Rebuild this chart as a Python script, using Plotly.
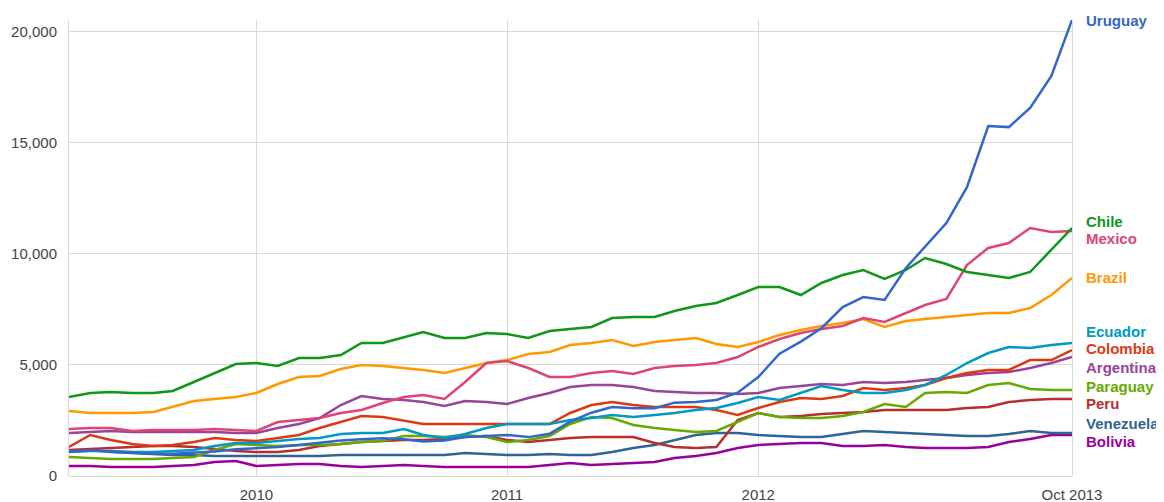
import plotly.graph_objects as go
import pandas as pd

# monthly observations, Oct 2009 .. Oct 2013
months = pd.date_range("2009-10-01", "2013-10-01", freq="MS")

uruguay = [1100, 1150, 1100, 1050, 1000, 1000, 1050, 1100, 1200, 1250, 1300, 1400, 1500,
           1600, 1650, 1700, 1650, 1550, 1600, 1750, 1800, 1850, 1750, 1900, 2450, 2850,
           3100, 3050, 3050, 3300, 3330, 3420, 3750, 4450, 5500, 6050, 6650, 7600, 8050,
           7920, 9360, 10300, 11385, 13000, 15750, 15700, 16560, 18000, 20520]
chile = [3555, 3735, 3780, 3735, 3735, 3825, 4230, 4635, 5040, 5085, 4950, 5310, 5310,
         5445, 5985, 5985, 6255, 6480, 6210, 6210, 6435, 6390, 6210, 6525, 6615, 6705,
         7110, 7155, 7155, 7425, 7650, 7785, 8145, 8505, 8505, 8145, 8685, 9045, 9270,
         8865, 9270, 9810, 9540, 9180, 9045, 8910, 9180, 10170, 11160]
mexico = [2115, 2160, 2160, 2025, 2070, 2070, 2070, 2115, 2070, 2025, 2430, 2520, 2610,
          2835, 2970, 3285, 3555, 3645, 3465, 4230, 5085, 5175, 4860, 4455, 4455, 4635,
          4725, 4590, 4860, 4950, 4995, 5085, 5355, 5805, 6165, 6435, 6615, 6750, 7110,
          6930, 7335, 7695, 7965, 9495, 10260, 10485, 11160, 10980, 11025]
brazil = [2925, 2835, 2835, 2835, 2880, 3105, 3375, 3465, 3555, 3735, 4140, 4455, 4500,
          4815, 4995, 4950, 4860, 4770, 4635, 4860, 5085, 5220, 5490, 5580, 5895, 5985,
          6120, 5850, 6030, 6120, 6210, 5940, 5805, 6030, 6345, 6570, 6750, 6885, 7065,
          6705, 6975, 7065, 7155, 7245, 7335, 7335, 7560, 8145, 8910]
ecuador = [1080, 1125, 1125, 1080, 1080, 1125, 1170, 1350, 1485, 1485, 1575, 1665, 1710,
           1890, 1935, 1935, 2115, 1845, 1710, 1890, 2160, 2340, 2340, 2340, 2520, 2610,
           2745, 2655, 2745, 2835, 2970, 3060, 3285, 3555, 3420, 3735, 4050, 3870, 3735,
           3735, 3870, 4095, 4545, 5085, 5535, 5805, 5760, 5895, 5985]
colombia = [1305, 1845, 1620, 1440, 1350, 1395, 1530, 1710, 1620, 1575, 1710, 1845, 2160,
            2430, 2700, 2655, 2475, 2340, 2340, 2340, 2340, 2340, 2340, 2340, 2835, 3195,
            3330, 3195, 3105, 3105, 3105, 2970, 2745, 3060, 3330, 3510, 3465, 3600, 3960,
            3870, 3960, 4095, 4410, 4635, 4770, 4770, 5220, 5220, 5670]
argentina = [1935, 1980, 2025, 1980, 1980, 1980, 1980, 1980, 1935, 1935, 2160, 2340, 2610,
             3195, 3600, 3465, 3420, 3330, 3150, 3375, 3330, 3240, 3510, 3735, 4005, 4095,
             4095, 4005, 3825, 3780, 3735, 3735, 3690, 3735, 3960, 4050, 4140, 4095, 4230,
             4185, 4230, 4320, 4410, 4545, 4635, 4680, 4860, 5085, 5355]
paraguay = [855, 810, 765, 765, 765, 810, 855, 1170, 1440, 1395, 1350, 1395, 1395,
            1440, 1530, 1575, 1800, 1800, 1755, 1845, 1755, 1530, 1620, 1800, 2340, 2655,
            2610, 2295, 2160, 2070, 1980, 2025, 2430, 2835, 2655, 2610, 2610, 2700, 2880,
            3240, 3105, 3735, 3780, 3735, 4095, 4185, 3915, 3870, 3870]
peru = [1170, 1215, 1260, 1305, 1350, 1350, 1305, 1215, 1125, 1080, 1080, 1170, 1350,
        1440, 1530, 1575, 1620, 1620, 1665, 1755, 1800, 1620, 1530, 1620, 1710, 1755,
        1755, 1755, 1485, 1305, 1260, 1305, 2520, 2835, 2655, 2700, 2790, 2835, 2880,
        2970, 2970, 2970, 2970, 3060, 3105, 3330, 3420, 3465, 3465]
venezuela = [1125, 1170, 1080, 1035, 990, 945, 945, 900, 900, 900, 900, 900, 900,
             945, 945, 945, 945, 945, 945, 1035, 990, 945, 945, 990, 945, 945,
             1080, 1260, 1395, 1620, 1845, 1935, 1935, 1845, 1800, 1755, 1755, 1890, 2025,
             1980, 1935, 1890, 1845, 1800, 1800, 1890, 2025, 1935, 1935]
bolivia = [450, 450, 405, 405, 405, 450, 495, 630, 675, 450, 495, 540, 540,
           450, 405, 450, 495, 450, 405, 405, 405, 405, 405, 495, 585, 495,
           540, 585, 630, 810, 900, 1035, 1260, 1395, 1440, 1485, 1485, 1350, 1350,
           1395, 1305, 1260, 1260, 1260, 1305, 1530, 1665, 1845, 1845]

countries = ["Uruguay", "Chile", "Mexico", "Brazil", "Ecuador", "Colombia",
             "Argentina", "Paraguay", "Peru", "Venezuela", "Bolivia"]
series = [uruguay, chile, mexico, brazil, ecuador, colombia,
          argentina, paraguay, peru, venezuela, bolivia]
colors = ["#3366cc", "#109618", "#dd4477", "#ff9900", "#0099c6", "#dc3912",
          "#994499", "#66aa00", "#b82e2e", "#316395", "#990099"]
# vertical position of the end labels (paper fraction), spread so they don't collide
label_pos = [1.0, 0.559, 0.520, 0.436, 0.316, 0.279, 0.239, 0.197, 0.158, 0.116, 0.075]

tick_vals = ["2010-07-01", "2011-07-01", "2012-07-01", "2013-10-01"]
tick_text = ["2010", "2011", "2012", "Oct 2013"]

fig = go.Figure()

# draw in reverse so the upper series sit on top
for name, vals, col in reversed(list(zip(countries, series, colors))):
    fig.add_trace(go.Scatter(x=months, y=vals, mode="lines", name=name,
                             line=dict(color=col, width=2.5)))

for name, col, yp in zip(countries, colors, label_pos):
    fig.add_annotation(text="<b>%s</b>" % name, xref="paper", yref="paper",
                       x=1.012, y=yp, xanchor="left", yanchor="middle",
                       showarrow=False,
                       font=dict(color=col, size=15, family="Liberation Sans, Arial, sans-serif"))

fig.update_xaxes(range=["2009-10-01", "2013-10-01"], tickvals=tick_vals, ticktext=tick_text,
                 showgrid=True, gridcolor="#d9d9d9", gridwidth=1, automargin=False,
                 showline=False, zeroline=False, ticks="", ticklabelstandoff=8,
                 tickfont=dict(size=15, color="#444444"))
fig.update_yaxes(range=[0, 20520], tickvals=[0, 5000, 10000, 15000, 20000],
                 tickformat=",", showgrid=True, gridcolor="#d9d9d9", gridwidth=1,
                 zeroline=True, zerolinecolor="#d9d9d9", zerolinewidth=1,
                 showline=True, mirror=True, linecolor="#d9d9d9", linewidth=1,
                 ticks="", ticklabelstandoff=8, automargin=False,
                 tickfont=dict(size=15, color="#444444"))

# the page adds an 8px body margin, so the plot area is offset accordingly
fig.update_layout(width=1164, height=494, showlegend=False,
                  plot_bgcolor="white", paper_bgcolor="white",
                  margin=dict(l=61, r=100, t=12, b=26),
                  font=dict(family="Liberation Sans, Arial, sans-serif"))

fig.write_html("out.html")
